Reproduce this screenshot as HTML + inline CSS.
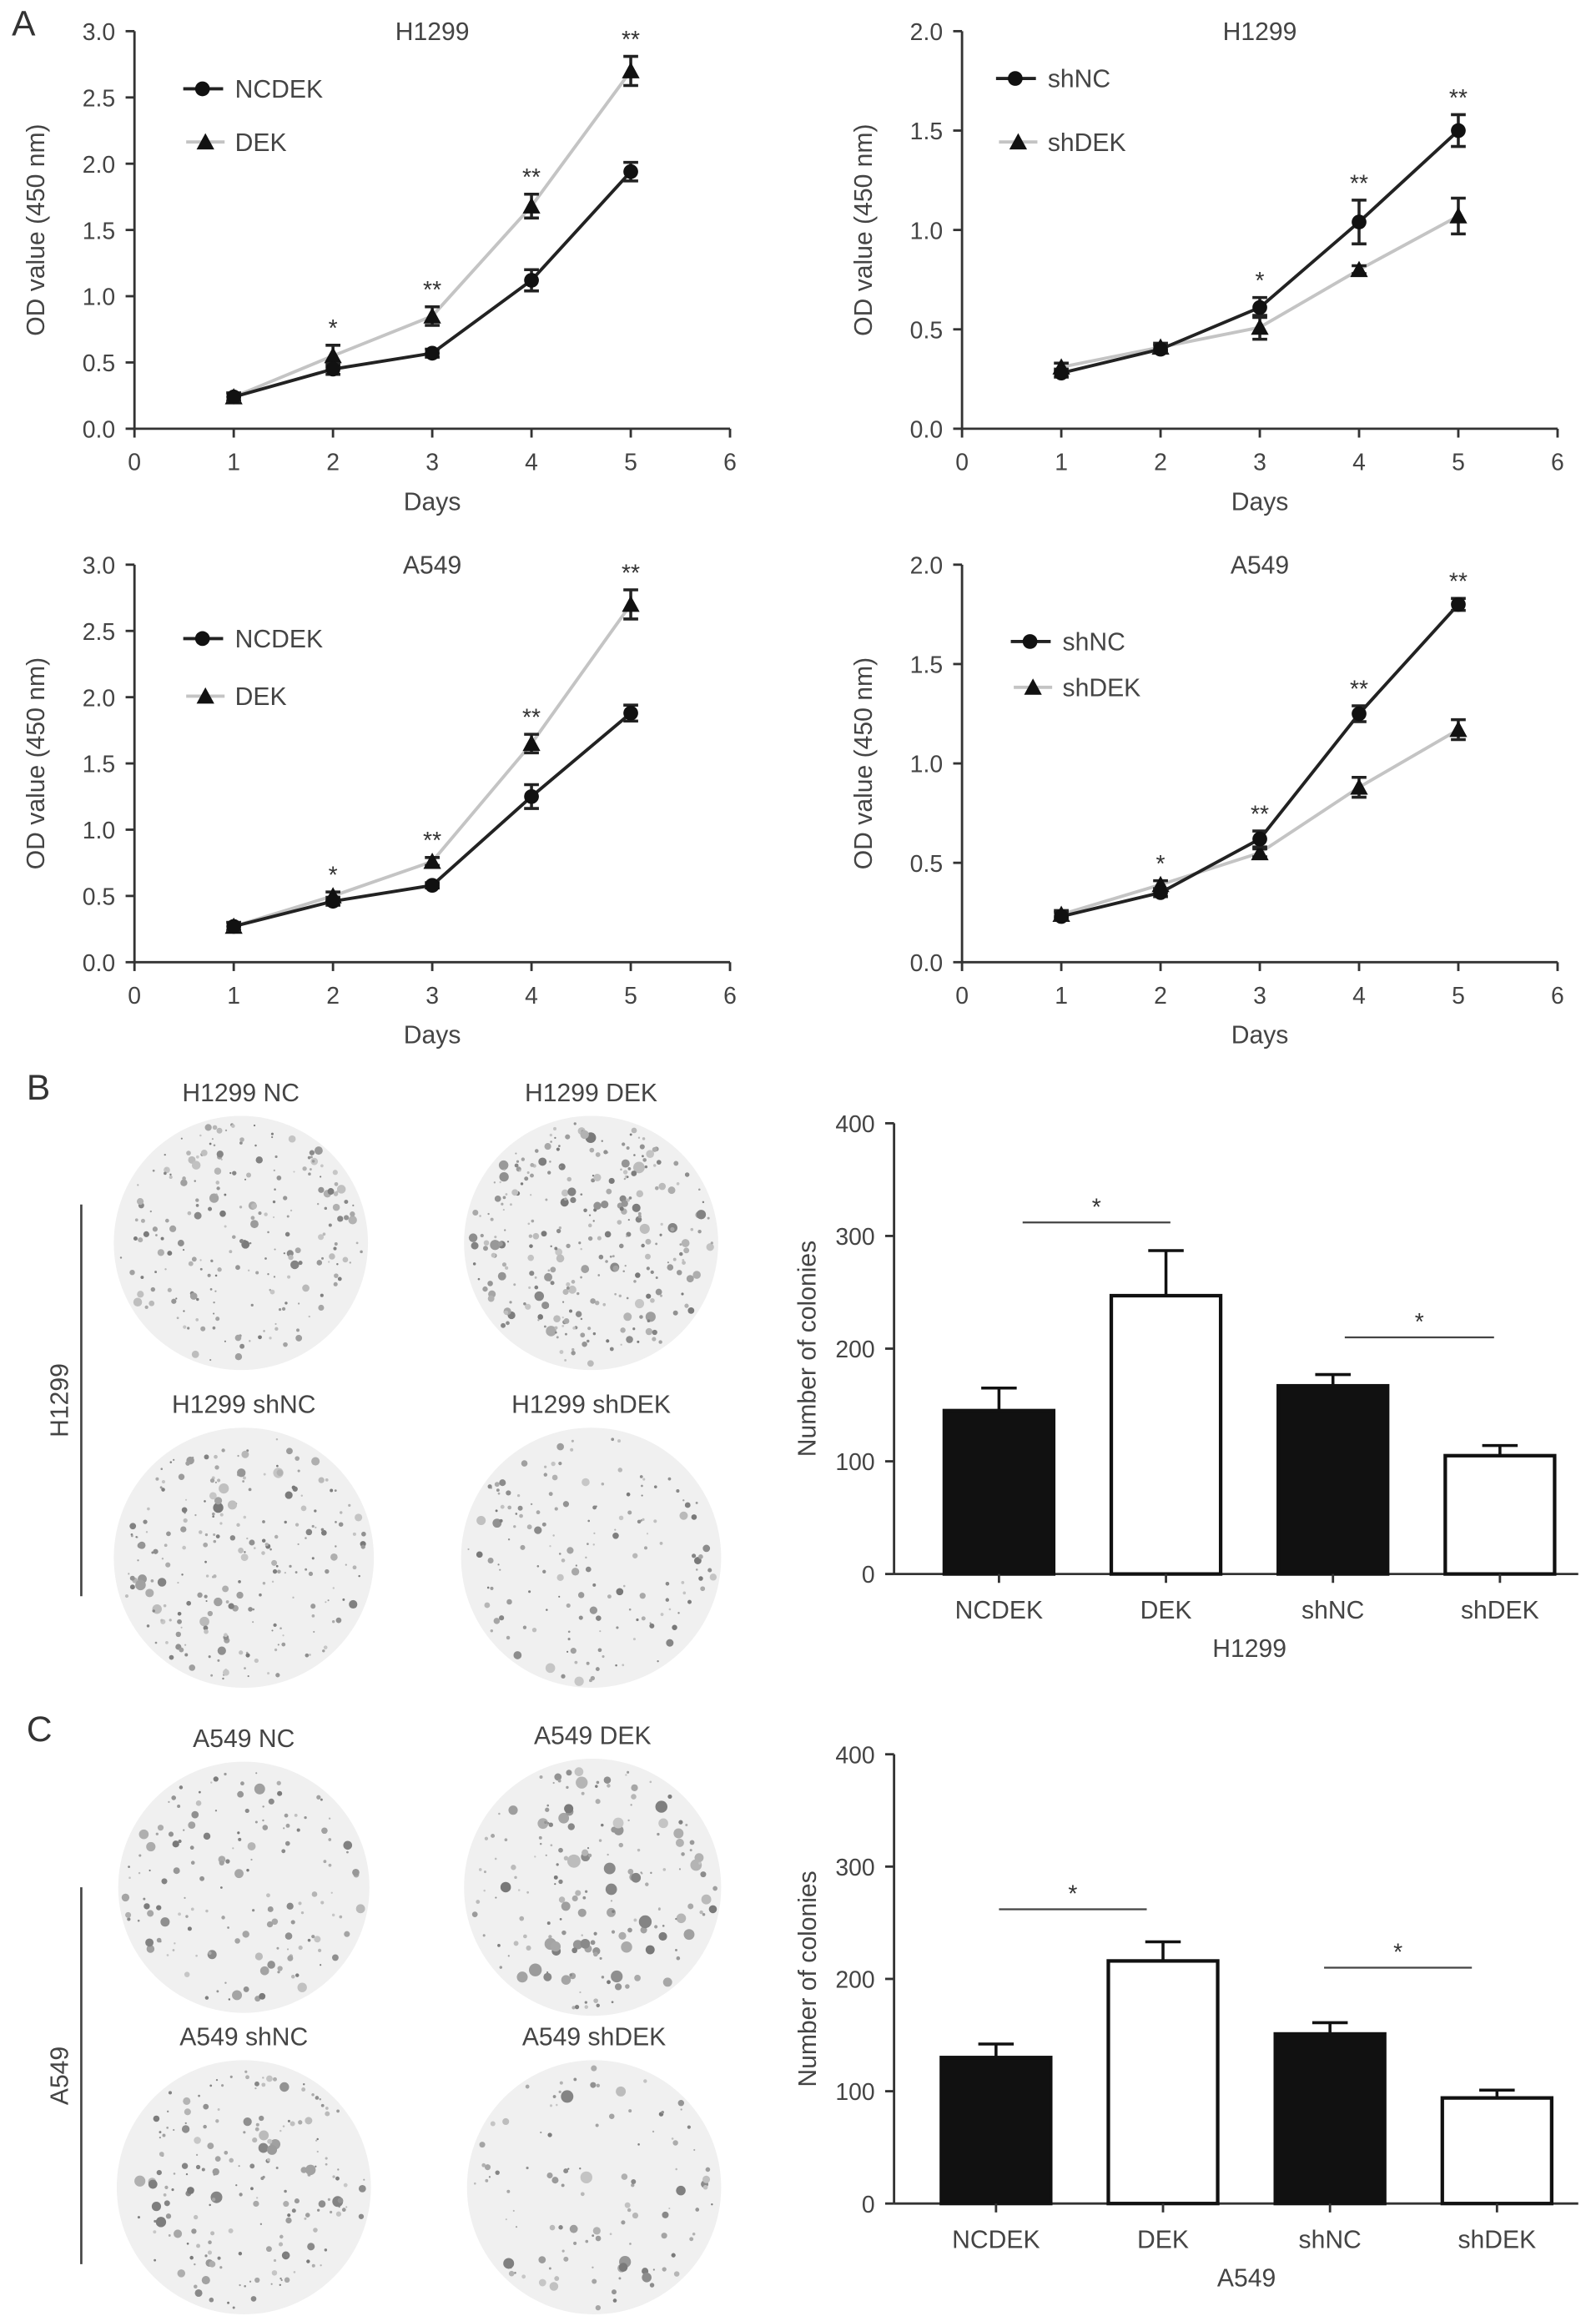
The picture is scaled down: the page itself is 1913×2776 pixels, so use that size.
<!DOCTYPE html>
<html><head><meta charset="utf-8"><style>
html,body{margin:0;padding:0;background:#fff;}
svg{display:block;font-family:"Liberation Sans",Arial,sans-serif;}
</style></head><body>
<svg id="fig" width="1913" height="2776" viewBox="0 0 1080 1567" xmlns="http://www.w3.org/2000/svg">
<text x="8" y="24" font-size="24" fill="#333">A</text>
<text x="18" y="744" font-size="24" fill="#333">B</text>
<text x="18" y="1178" font-size="24" fill="#333">C</text>
</svg>
<script>
// ---- growth curve data ----
const days = [1,2,3,4,5];
const xTicks = [0,1,2,3,4,5,6];
const h1299NC = [0.24,0.45,0.57,1.12,1.94];
const h1299NCErr = [0.03,0.04,0.03,0.08,0.07];
const h1299DEK = [0.24,0.55,0.85,1.68,2.70];
const h1299DEKErr = [0.03,0.08,0.07,0.09,0.11];
const h1299shNC = [0.28,0.40,0.61,1.04,1.50];
const h1299shNCErr = [0.02,0.02,0.05,0.11,0.08];
const h1299shDEK = [0.31,0.41,0.51,0.80,1.07];
const h1299shDEKErr = [0.02,0.02,0.06,0.02,0.09];
const a549NC = [0.27,0.46,0.58,1.25,1.88];
const a549NCErr = [0.03,0.03,0.02,0.09,0.06];
const a549DEK = [0.27,0.50,0.76,1.65,2.70];
const a549DEKErr = [0.03,0.03,0.03,0.07,0.11];
const a549shNC = [0.23,0.35,0.62,1.25,1.80];
const a549shNCErr = [0.02,0.02,0.04,0.04,0.03];
const a549shDEK = [0.24,0.39,0.55,0.88,1.17];
const a549shDEKErr = [0.02,0.02,0.02,0.05,0.05];
const starsLeft = ["","*","**","**","**"];
const starsRightTop = ["","","*","**","**"];
const starsRightBot = ["","*","**","**","**"];
// ---- colony data ----
const barCats = ["NCDEK","DEK","shNC","shDEK"];
const h1299Colonies = [145,247,167,105];
const h1299ColErr = [20,40,10,9];
const a549Colonies = [130,216,151,94];
const a549ColErr = [12,17,10,7];
const barTicks = [0,100,200,300,400];

const NS="http://www.w3.org/2000/svg";
const svg=document.getElementById('fig');
function el(tag,attrs,parent,text){const e=document.createElementNS(NS,tag);for(const k in attrs)e.setAttribute(k,attrs[k]);if(text!==undefined)e.textContent=text;(parent||svg).appendChild(e);return e;}

function lineChart(o){
  const g=el('g',{});
  
  
  const X=d=>o.x0+(o.x6-o.x0)*d/6;
  const Y=v=>o.y0-(o.y0-o.yt)*v/o.ymax;
  el('line',{x1:o.x0,y1:o.y0,x2:o.x0,y2:o.yt,stroke:'#333','stroke-width':1.6},g);
  el('line',{x1:o.x0,y1:o.y0,x2:o.x6,y2:o.y0,stroke:'#333','stroke-width':1.6},g);
  o.yTicks.forEach(t=>{const y=Y(t);
    el('line',{x1:o.x0-6,y1:y,x2:o.x0,y2:y,stroke:'#333','stroke-width':1.6},g);
    const tx=el('text',{x:o.x0-13,y:y+6,'font-size':16,'text-anchor':'end',fill:'#444'},g,t.toFixed(1));
    });
  xTicks.forEach(t=>{const x=X(t);
    el('line',{x1:x,y1:o.y0,x2:x,y2:o.y0+6,stroke:'#333','stroke-width':1.6},g);
    const tx=el('text',{x:x,y:o.y0+28,'font-size':16,'text-anchor':'middle',fill:'#444'},g,String(t));
    });
  const xl=el('text',{x:(o.x0+o.x6)/2,y:o.y0+55,'font-size':17,'text-anchor':'middle',fill:'#444'},g,'Days');
  
  const yc=(o.y0+o.yt)/2;
  const yl=el('text',{x:o.x0-61,y:yc,'font-size':17,'text-anchor':'middle',fill:'#444',transform:`rotate(-90 ${o.x0-61} ${yc})`},g,'OD value (450 nm)');
  
  const tt=el('text',{x:X(3),y:o.yt+6,'font-size':17,'text-anchor':'middle',fill:'#444'},g,o.title);
  
  const draw=(vals,errs,color,shape,nm)=>{
    const pts=days.map((d,i)=>X(d)+','+Y(vals[i])).join(' ');
    const pl=el('polyline',{points:pts,fill:'none',stroke:color,'stroke-width':2.2},g);
    
    days.forEach((d,i)=>{const x=X(d),y=Y(vals[i]),ya=Y(vals[i]+errs[i]),yb=Y(vals[i]-errs[i]);
      el('path',{d:`M${x},${ya}V${yb}M${x-5},${ya}H${x+5}M${x-5},${yb}H${x+5}`,stroke:'#222','stroke-width':2,fill:'none'},g);
      let m;
      if(shape==='c') m=el('circle',{cx:x,cy:y,r:5,fill:'#111'},g);
      else m=el('path',{d:`M${x},${y-6}L${x+6},${y+5}L${x-6},${y+5}Z`,fill:'#111'},g);
      });
  };
  draw(o.b,o.bErr,'#c4c4c4','t',o.bName);
  draw(o.a,o.aErr,'#222','c',o.aName);
  days.forEach((d,i)=>{if(!o.stars[i])return;
    const top=Math.max(o.a[i]+o.aErr[i],o.b[i]+o.bErr[i]);
    const s=el('text',{x:X(d),y:Y(top)-6,'font-size':16,'text-anchor':'middle',fill:'#333'},g,o.stars[i]);
    });
  const lg=el('g',{},g);
  
  const lx=o.lx,ly1=o.ly1,ly2=o.ly2;
  el('line',{x1:lx,y1:ly1,x2:lx+27,y2:ly1,stroke:'#222','stroke-width':2.2},lg);
  el('circle',{cx:lx+13,cy:ly1,r:5,fill:'#111'},lg);
  const t1=el('text',{x:lx+35,y:ly1+6,'font-size':17,fill:'#444'},lg,o.aName);
  
  el('line',{x1:lx+2,y1:ly2,x2:lx+28,y2:ly2,stroke:'#c4c4c4','stroke-width':2.2},lg);
  el('path',{d:`M${lx+15},${ly2-6}L${lx+21},${ly2+5}L${lx+9},${ly2+5}Z`,fill:'#111'},lg);
  const t2=el('text',{x:lx+35,y:ly2+6,'font-size':17,fill:'#444'},lg,o.bName);
  
}
lineChart({name:'h1299-overexpression-chart',x0:91,x6:494,y0:290,yt:21,ymax:3,yTicks:[0,0.5,1,1.5,2,2.5,3],title:'H1299',a:h1299NC,aErr:h1299NCErr,b:h1299DEK,bErr:h1299DEKErr,aName:'NCDEK',bName:'DEK',stars:starsLeft,lx:124,ly1:60,ly2:96});
lineChart({name:'h1299-knockdown-chart',x0:651,x6:1054,y0:290,yt:21,ymax:2,yTicks:[0,0.5,1,1.5,2],title:'H1299',a:h1299shNC,aErr:h1299shNCErr,b:h1299shDEK,bErr:h1299shDEKErr,aName:'shNC',bName:'shDEK',stars:starsRightTop,lx:674,ly1:53,ly2:96});
lineChart({name:'a549-overexpression-chart',x0:91,x6:494,y0:651,yt:382,ymax:3,yTicks:[0,0.5,1,1.5,2,2.5,3],title:'A549',a:a549NC,aErr:a549NCErr,b:a549DEK,bErr:a549DEKErr,aName:'NCDEK',bName:'DEK',stars:starsLeft,lx:124,ly1:432,ly2:471});
lineChart({name:'a549-knockdown-chart',x0:651,x6:1054,y0:651,yt:382,ymax:2,yTicks:[0,0.5,1,1.5,2],title:'A549',a:a549shNC,aErr:a549shNCErr,b:a549shDEK,bErr:a549shDEKErr,aName:'shNC',bName:'shDEK',stars:starsRightBot,lx:684,ly1:434,ly2:465});

// ---- dishes ----
let seed=7;function rnd(){seed=(seed*16807)%2147483647;return seed/2147483647;}
function dish(cx,cy,r,label,n,big,name){
  const g=el('g',{});
  
  el('circle',{cx,cy,r,fill:'#f0f0f0'},g);
  for(let i=0;i<n;i++){const a=rnd()*6.283,d=Math.sqrt(rnd())*(r-4);
    const s=0.6+rnd()*rnd()*big;const c=120+Math.floor(rnd()*80);
    el('circle',{cx:cx+Math.cos(a)*d,cy:cy+Math.sin(a)*d,r:s,fill:`rgb(${c},${c},${c})`},g);}
  const t=el('text',{x:cx,y:cy-r-10,'font-size':17,'text-anchor':'middle',fill:'#444'},g,label);
  
}
dish(163,841,86,'H1299 NC',220,3,'dish-h1299-nc');
dish(400,841,86,'H1299 DEK',300,3.6,'dish-h1299-dek');
dish(165,1054,88,'H1299 shNC',240,3.2,'dish-h1299-shnc');
dish(400,1054,88,'H1299 shDEK',160,3,'dish-h1299-shdek');
dish(165,1277,85,'A549 NC',150,3.4,'dish-a549-nc');
dish(401,1277,87,'A549 DEK',180,5,'dish-a549-dek');
dish(165,1480,86,'A549 shNC',190,3.6,'dish-a549-shnc');
dish(402,1480,86,'A549 shDEK',110,3.8,'dish-a549-shdek');
function sideLabel(y1,y2,label,name){
  const g=el('g',{});
  el('line',{x1:55,y1:y1,x2:55,y2:y2,stroke:'#444','stroke-width':1.5},g);
  const yc=(y1+y2)/2;
  el('text',{x:46,y:yc,'font-size':17,'text-anchor':'middle',fill:'#444',transform:`rotate(-90 46 ${yc})`},g,label);
}
sideLabel(815,1080,'H1299','h1299-row-bracket');
sideLabel(1277,1532,'A549','a549-row-bracket');

// ---- bar charts ----
function barChart(o){
  const g=el('g',{});
  const Y=v=>o.y0-(o.y0-o.yt)*v/400;
  el('line',{x1:o.ax,y1:o.y0,x2:o.ax,y2:o.yt,stroke:'#333','stroke-width':1.6},g);
  el('line',{x1:o.ax,y1:o.y0,x2:1068,y2:o.y0,stroke:'#333','stroke-width':1.6},g);
  barTicks.forEach(t=>{const y=Y(t);
    el('line',{x1:o.ax-6,y1:y,x2:o.ax,y2:y,stroke:'#333','stroke-width':1.6},g);
    const tx=el('text',{x:o.ax-13,y:y+6,'font-size':16,'text-anchor':'end',fill:'#444'},g,String(t));
    });
  const yc=(o.y0+o.yt)/2;
  const yl=el('text',{x:o.ax-53,y:yc,'font-size':17,'text-anchor':'middle',fill:'#444',transform:`rotate(-90 ${o.ax-53} ${yc})`},g,'Number of colonies');
  
  const bw=74,step=113,c0=o.c0;
  barCats.forEach((c,i)=>{const cx=c0+step*i,v=o.vals[i],e=o.errs[i];
    const fill=(i%2===0)?'#111':'#fff';
    el('path',{d:`M${cx},${Y(v)}V${Y(v+e)}M${cx-12},${Y(v+e)}H${cx+12}`,stroke:'#111','stroke-width':2,fill:'none'},g);
    const b=el('rect',{x:cx-bw/2,y:Y(v),width:bw,height:o.y0-Y(v),fill,stroke:'#111','stroke-width':2.4},g);
    
    el('line',{x1:cx,y1:o.y0,x2:cx,y2:o.y0+6,stroke:'#333','stroke-width':1.6},g);
    const t=el('text',{x:cx,y:o.y0+30,'font-size':17,'text-anchor':'middle',fill:'#444'},g,c);
    });
  const xl=el('text',{x:c0+step*1.5,y:o.y0+56,'font-size':17,'text-anchor':'middle',fill:'#444'},g,o.xlabel);
  
  o.sig.forEach(s=>{
    el('line',{x1:s[0],y1:Y(s[2]),x2:s[1],y2:Y(s[2]),stroke:'#444','stroke-width':1.3},g);
    const t=el('text',{x:(s[0]+s[1])/2,y:Y(s[2])-5,'font-size':16,'text-anchor':'middle',fill:'#333'},g,'*');
    });
}
barChart({name:'h1299-colony-bar-chart',ax:605,y0:1065,yt:760,c0:676,vals:h1299Colonies,errs:h1299ColErr,xlabel:'H1299',sig:[[692,792,312],[910,1011,210]]});
barChart({name:'a549-colony-bar-chart',ax:605,y0:1491,yt:1187,c0:674,vals:a549Colonies,errs:a549ColErr,xlabel:'A549',sig:[[676,776,262],[896,996,210]]});
</script>
</body></html>
